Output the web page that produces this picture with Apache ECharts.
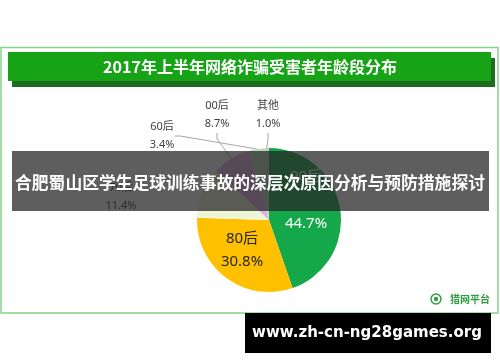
<!DOCTYPE html>
<html><head><meta charset="utf-8">
<script src="https://cdn.jsdelivr.net/npm/echarts@6/dist/echarts.min.js"></script>
<style>html,body{margin:0;padding:0;background:#fff}#c{width:500px;height:362px}</style>
</head><body><div id="c"></div>
<script>
// ---- data ----
const categories = ['90后', '80后', '70后', '00后', '60后', '其他'];
const values = [44.7, 30.8, 11.4, 8.7, 3.4, 1.0];
const titleText = '2017年上半年网络诈骗受害者年龄段分布';
const overlayText = '合肥蜀山区学生足球训练事故的深层次原因分析与预防措施探讨';
const footerText = 'www.zh-cn-ng28games.org';
const logoText = '猎网平台';

// ---- styles / layout (kept separate from data) ----
const sliceColors = ['#14a84a', '#ffc000', '#eef6d8', '#e6aee6', '#b7dcb2', '#c8c8c8'];
const labelPos = [[306, 200], [242, 250], [121, 197], [217, 115], [162, 136], [268, 115]];
const labelInside = [true, true, false, false, false, false];
const labelColor = ['#ffffff', '#262626', '#404040', '#404040', '#404040', '#404040'];
const labelSize = [15, 15, 11, 11, 11, 11];
const labelLH = [47, 23, 18, 18, 18, 18];
const showLine = [false, false, false, true, true, true];

const chart = echarts.init(document.getElementById('c'), null, {renderer: 'canvas'});
const fontCJK = '"Noto Sans", "Noto Sans CJK SC", sans-serif';

const pieData = categories.map((name, i) => ({
  name: name,
  value: values[i],
  itemStyle: {color: sliceColors[i]},
  label: {
    position: labelInside[i] ? 'inside' : 'outside',
    color: labelColor[i],
    fontSize: labelSize[i],
    lineHeight: labelLH[i]
  },
  labelLine: {show: showLine[i]}
}));

const option = {
  backgroundColor: '#ffffff',
  animation: false,
  series: [{
    type: 'pie',
    center: [269, 220],
    radius: [0, 72],
    startAngle: 90,
    clockwise: true,
    z: 2,
    itemStyle: {borderWidth: 0},
    label: {
      fontFamily: fontCJK,
      formatter: p => p.name + '\n' + p.value.toFixed(1) + '%'
    },
    labelLine: {
      length: 6, length2: 6,
      lineStyle: {color: '#a6a6a6', width: 1}
    },
    labelLayout: function (params) {
      const p = labelPos[params.dataIndex];
      return {x: p[0], y: p[1], align: 'center', verticalAlign: 'middle'};
    },
    data: pieData
  }],
  graphic: [
    // outer frame
    {type: 'rect', z: 1, shape: {x: 1, y: 47.5, width: 497, height: 265.5},
     style: {fill: 'none', stroke: '#86d486', lineWidth: 1.5}},
    // banner shadow
    {type: 'rect', z: 1, shape: {x: 12, y: 58, width: 483, height: 29},
     style: {fill: '#1f6b1f'}},
    // banner
    {type: 'rect', z: 1, shape: {x: 8, y: 52, width: 483, height: 29},
     style: {fill: '#16a316'}},
    {type: 'text', z: 3, x: 250, y: 67,
     style: {text: titleText, fill: '#ffffff', font: 'bold 16px "Noto Sans CJK SC", sans-serif',
             align: 'center', verticalAlign: 'middle'}},
    // logo
    {type: 'circle', z: 3, shape: {cx: 436, cy: 299, r: 5},
     style: {fill: 'none', stroke: '#2f9e44', lineWidth: 1.5}},
    {type: 'circle', z: 3, shape: {cx: 436, cy: 299, r: 2.2},
     style: {fill: '#2f9e44'}},
    {type: 'text', z: 3, x: 470, y: 299,
     style: {text: logoText, fill: '#2f9e44', font: 'bold 10px "Noto Sans CJK SC", sans-serif',
             align: 'center', verticalAlign: 'middle'}},
    // overlay band
    {type: 'rect', z: 100, shape: {x: 12, y: 151, width: 477, height: 60},
     style: {fill: 'rgba(38,38,38,0.74)'}},
    {type: 'text', z: 101, x: 250, y: 183,
     style: {text: overlayText, fill: '#ffffff', font: 'bold 16.8px "Noto Sans CJK SC", sans-serif',
             align: 'center', verticalAlign: 'middle'}},
    // footer box
    {type: 'rect', z: 100, shape: {x: 245, y: 313, width: 246, height: 40},
     style: {fill: '#000000'}},
    {type: 'text', z: 101, x: 367, y: 333,
     style: {text: footerText, fill: '#ffffff', font: 'bold 15px "DejaVu Sans", sans-serif',
             align: 'center', verticalAlign: 'middle'}}
  ]
};
chart.setOption(option);
</script>
</body></html>
